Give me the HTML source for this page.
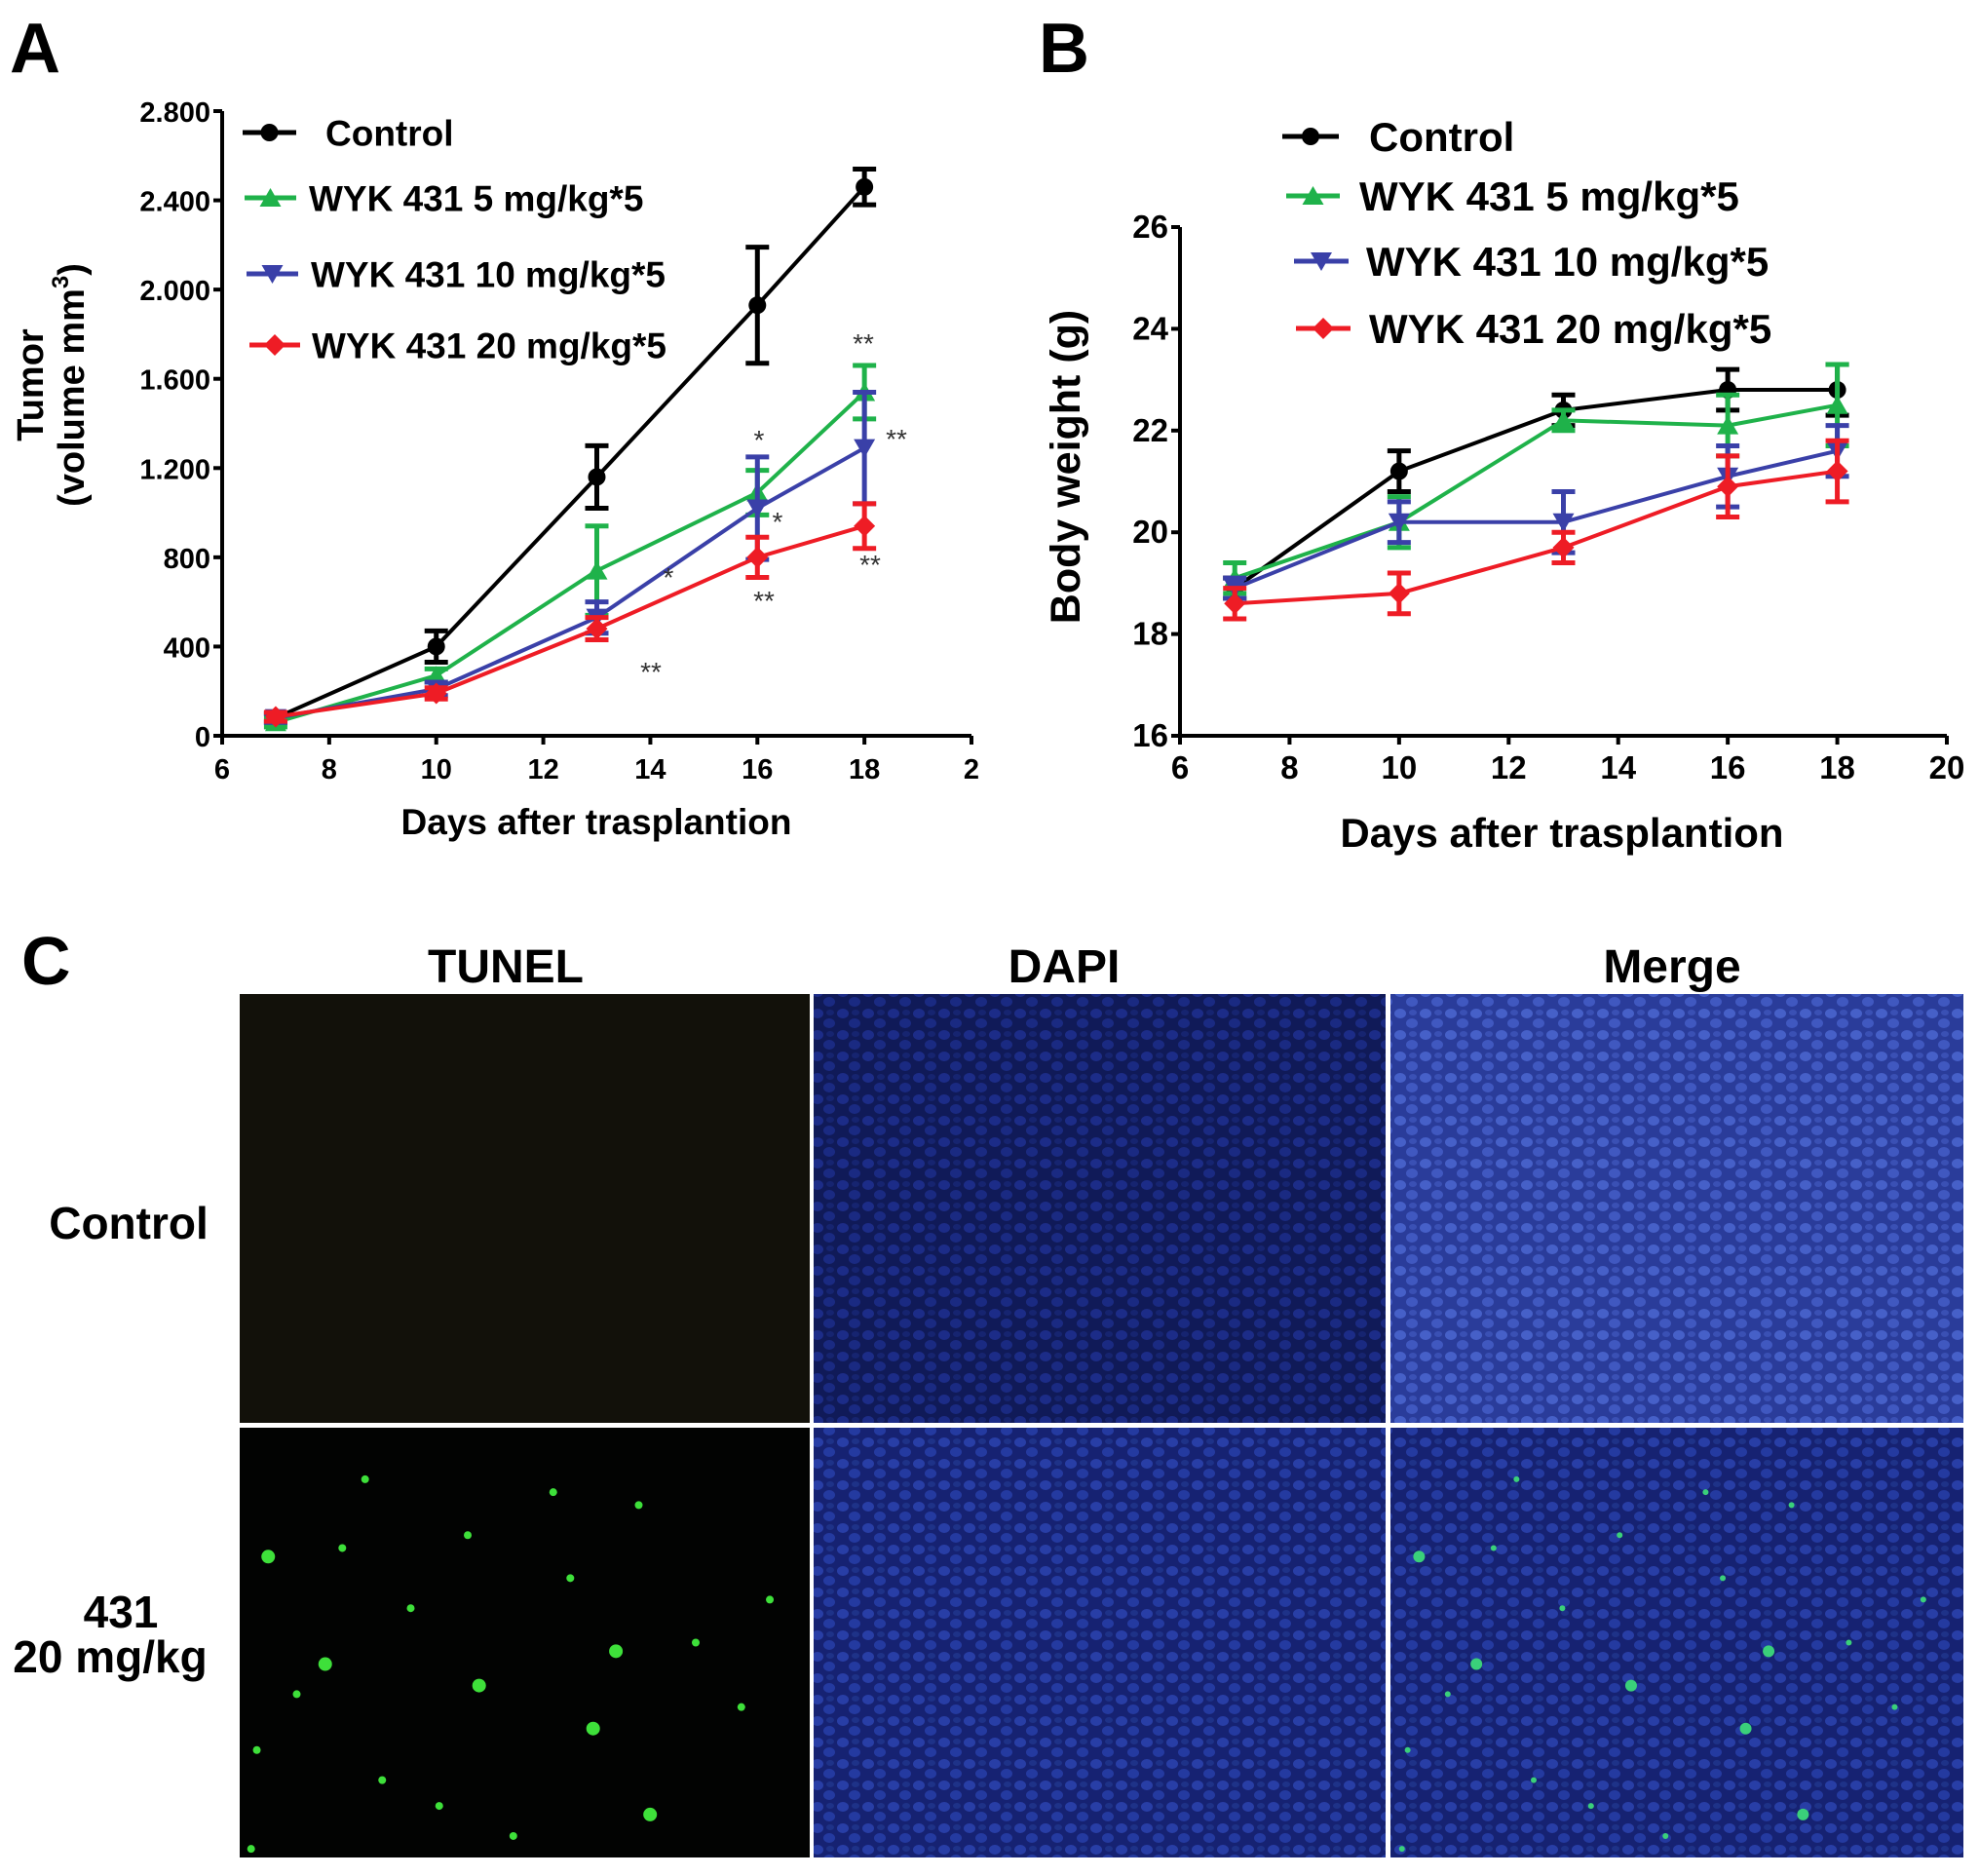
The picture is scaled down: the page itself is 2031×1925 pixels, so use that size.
<!DOCTYPE html>
<html><head><meta charset="utf-8"><style>
html,body{margin:0;padding:0;background:#fff;}
svg{display:block;font-family:"Liberation Sans",Arial,sans-serif;font-weight:bold;}
</style></head><body>
<svg id="fig" width="2031" height="1925" viewBox="0 0 2031 1925">
<defs>
<pattern id="nucDim" width="26" height="22" patternUnits="userSpaceOnUse">
<rect width="26" height="22" fill="#101a58"/>
<ellipse cx="7" cy="6" rx="6" ry="5" fill="#1c2c88"/>
<ellipse cx="19" cy="16" rx="6" ry="5" fill="#1a2a82"/>
<ellipse cx="20" cy="5" rx="4" ry="3" fill="#162470"/>
</pattern>
<pattern id="nucBright" width="26" height="22" patternUnits="userSpaceOnUse">
<rect width="26" height="22" fill="#2a3c9a"/>
<ellipse cx="7" cy="6" rx="6" ry="5" fill="#4660c8"/>
<ellipse cx="19" cy="16" rx="6" ry="5" fill="#4058c0"/>
<ellipse cx="20" cy="5" rx="4" ry="3" fill="#3a50b4"/>
</pattern>
<pattern id="nucMid" width="26" height="22" patternUnits="userSpaceOnUse">
<rect width="26" height="22" fill="#162272"/>
<ellipse cx="7" cy="6" rx="6" ry="5" fill="#283ea6"/>
<ellipse cx="19" cy="16" rx="6" ry="5" fill="#243aa0"/>
<ellipse cx="20" cy="5" rx="4" ry="3" fill="#1e3288"/>
</pattern>
</defs>

<g id="chartA"></g>
<g id="chartB"></g>

<text x="10" y="74" font-size="72">A</text>
<text x="1066" y="74" font-size="72">B</text>

<g>
<text x="22" y="1010" font-size="70">C</text>
<text x="519" y="1008" font-size="48" text-anchor="middle">TUNEL</text>
<text x="1092" y="1008" font-size="48" text-anchor="middle">DAPI</text>
<text x="1716" y="1008" font-size="48" text-anchor="middle">Merge</text>
<text x="132" y="1271" font-size="46" text-anchor="middle">Control</text>
<text x="124" y="1670" font-size="46" text-anchor="middle">431</text>
<text x="113" y="1716" font-size="46" text-anchor="middle">20 mg/kg</text>

<rect x="246" y="1020" width="585" height="440" fill="#12110a"/>
<rect x="835" y="1020" width="587" height="440" fill="url(#nucDim)"/>
<rect x="1427" y="1020" width="588" height="440" fill="url(#nucBright)"/>
<rect x="246" y="1465" width="585" height="441" fill="#020302"/>
<rect x="835" y="1465" width="587" height="441" fill="url(#nucMid)"/>
<rect x="1427" y="1465" width="588" height="441" fill="url(#nucMid)"/>
<g id="dots"></g>
</g>
</svg>
<script>
var NS="http://www.w3.org/2000/svg";
function mk(parent,tag,attrs,txt){var e=document.createElementNS(NS,tag);for(var k in attrs)e.setAttribute(k,attrs[k]);if(txt!==undefined)e.textContent=txt;parent.appendChild(e);return e;}

// ---- Chart A data ----
var daysA=[7,10,13,16,18];
var ctrlA=[80,400,1160,1930,2460];
var ctrlAErr=[20,70,140,260,80];
var g5A=[60,270,740,1090,1540];
var g5AErr=[20,30,200,100,120];
var b10A=[80,210,530,1020,1290];
var b10AErr=[20,30,70,230,250];
var r20A=[85,190,480,800,940];
var r20AErr=[20,25,50,90,100];
var yTicksA=["0","400","800","1.200","1.600","2.000","2.400","2.800"];
var yTickValsA=[0,400,800,1200,1600,2000,2400,2800];
var xTicksA=["6","8","10","12","14","16","18","2"];
var xTickValsA=[6,8,10,12,14,16,18,20];

// ---- Chart B data ----
var daysB=[7,10,13,16,18];
var ctrlB=[18.9,21.2,22.4,22.8,22.8];
var ctrlBErr=[0.2,0.4,0.3,0.4,0.5];
var g5B=[19.1,20.2,22.2,22.1,22.5];
var g5BErr=[0.3,0.5,0.2,0.6,0.8];
var b10B=[18.9,20.2,20.2,21.1,21.6];
var b10BErr=[0.2,0.4,0.6,0.6,0.5];
var r20B=[18.6,18.8,19.7,20.9,21.2];
var r20BErr=[0.3,0.4,0.3,0.6,0.6];
var yTickValsB=[16,18,20,22,24,26];
var xTickValsB=[6,8,10,12,14,16,18,20];

var colors={ctrl:"#000000",g:"#1fb24a",b:"#3a40a8",r:"#ee1c25"};

function marker(g,type,x,y,col,s){
  s=s||9;
  if(type==="circle")return mk(g,"circle",{cx:x,cy:y,r:s,fill:col});
  if(type==="up")return mk(g,"polygon",{points:(x)+","+(y-s-1)+" "+(x-s-2)+","+(y+s)+" "+(x+s+2)+","+(y+s),fill:col});
  if(type==="down")return mk(g,"polygon",{points:(x)+","+(y+s+1)+" "+(x-s-2)+","+(y-s)+" "+(x+s+2)+","+(y-s),fill:col});
  return mk(g,"polygon",{points:x+","+(y-s-2)+" "+(x+s+2)+","+y+" "+x+","+(y+s+2)+" "+(x-s-2)+","+y,fill:col});
}

function drawChart(g,o){
  function X(v){return o.x0+(v-o.xmin)/(o.xmax-o.xmin)*(o.x1-o.x0);}
  function Y(v){return o.y0-(v-o.ymin)/(o.ymax-o.ymin)*(o.y0-o.y1);}
  var ax=mk(g,"g",{});
  
  
  mk(ax,"line",{x1:o.x0,y1:o.y1,x2:o.x0,y2:o.y0,stroke:"#000","stroke-width":4});
  mk(ax,"line",{x1:o.x0,y1:o.y0,x2:o.x1,y2:o.y0,stroke:"#000","stroke-width":4});
  o.yv.forEach(function(v,i){
    mk(ax,"line",{x1:o.x0-9,y1:Y(v),x2:o.x0,y2:Y(v),stroke:"#000","stroke-width":4});
    var t=mk(ax,"text",{x:o.x0-12,y:Y(v)+11,"font-size":o.tf,"text-anchor":"end"},o.yl[i]);
    
    
  });
  o.xv.forEach(function(v,i){
    mk(ax,"line",{x1:X(v),y1:o.y0,x2:X(v),y2:o.y0+9,stroke:"#000","stroke-width":4});
    var t=mk(ax,"text",{x:X(v),y:o.y0+44,"font-size":o.tf,"text-anchor":"middle"},o.xl[i]);
    
    
  });
  o.series.forEach(function(s){
    var sg=mk(g,"g",{});
    
    
    var pts=s.x.map(function(d,i){return X(d)+","+Y(s.y[i]);}).join(" ");
    mk(sg,"polyline",{points:pts,fill:"none",stroke:s.col,"stroke-width":4});
    s.x.forEach(function(d,i){
      var cx=X(d),hi=Y(s.y[i]+s.e[i]),lo=Y(s.y[i]-s.e[i]);
      mk(sg,"line",{x1:cx,y1:hi,x2:cx,y2:lo,stroke:s.col,"stroke-width":5});
      mk(sg,"line",{x1:cx-12,y1:hi,x2:cx+12,y2:hi,stroke:s.col,"stroke-width":5});
      mk(sg,"line",{x1:cx-12,y1:lo,x2:cx+12,y2:lo,stroke:s.col,"stroke-width":5});
      var m=marker(sg,s.m,cx,Y(s.y[i]),s.col);
      
      
    });
  });
  o.legend.forEach(function(L){
    var lg=mk(g,"g",{});
    
    
    mk(lg,"line",{x1:L.lx0,y1:L.y,x2:L.lx1,y2:L.y,stroke:L.col,"stroke-width":5});
    marker(lg,L.m,(L.lx0+L.lx1)/2,L.y,L.col,9);
    mk(lg,"text",{x:L.tx,y:L.y+o.lf*0.36,"font-size":o.lf},L.label);
  });
}

var gA=document.getElementById("chartA");
drawChart(gA,{x0:228,x1:997,y0:755,y1:114,xmin:6,xmax:20,ymin:0,ymax:2800,tf:29,lf:37,
  yv:yTickValsA,yl:yTicksA,xv:xTickValsA,xl:xTicksA,
  series:[
   {name:"control",x:daysA,y:ctrlA,e:ctrlAErr,col:colors.ctrl,m:"circle"},
   {name:"5mg",x:daysA,y:g5A,e:g5AErr,col:colors.g,m:"up"},
   {name:"10mg",x:daysA,y:b10A,e:b10AErr,col:colors.b,m:"down"},
   {name:"20mg",x:daysA,y:r20A,e:r20AErr,col:colors.r,m:"diamond"}],
  legend:[
   {y:136,lx0:249,lx1:304,tx:334,col:colors.ctrl,m:"circle",label:"Control"},
   {y:203,lx0:251,lx1:304,tx:317,col:colors.g,m:"up",label:"WYK 431 5 mg/kg*5"},
   {y:281,lx0:253,lx1:306,tx:319,col:colors.b,m:"down",label:"WYK 431 10 mg/kg*5"},
   {y:354,lx0:256,lx1:308,tx:320,col:colors.r,m:"diamond",label:"WYK 431 20 mg/kg*5"}]
});
var yA=mk(gA,"text",{transform:"translate(44,395) rotate(-90)","font-size":38,"text-anchor":"middle"},"Tumor");


var yA2=mk(gA,"text",{transform:"translate(86,395) rotate(-90)","font-size":38,"text-anchor":"middle"});


mk(yA2,"tspan",{},"(volume mm");
mk(yA2,"tspan",{"font-size":24,dy:-16},"3");
mk(yA2,"tspan",{dy:16},")");
var xA=mk(gA,"text",{x:612,y:856,"font-size":37,"text-anchor":"middle"},"Days after trasplantion");


var starTexts=["**","**","**","**","**","*","*","*"];
var starPos=[[886,362],[920,460],[893,589],[784,626],[668,699],[779,461],[798,545],[686,602]];
starTexts.forEach(function(s,i){
  var t=mk(gA,"text",{x:starPos[i][0],y:starPos[i][1],"font-size":28,fill:"#333","text-anchor":"middle","font-weight":"normal"},s);
  
  
});

var gB=document.getElementById("chartB");
drawChart(gB,{x0:1211,x1:1998,y0:755,y1:233,xmin:6,xmax:20,ymin:16,ymax:26,tf:33,lf:42,
  yv:yTickValsB,yl:yTickValsB.map(String),xv:xTickValsB,xl:xTickValsB.map(String),
  series:[
   {name:"control",x:daysB,y:ctrlB,e:ctrlBErr,col:colors.ctrl,m:"circle"},
   {name:"5mg",x:daysB,y:g5B,e:g5BErr,col:colors.g,m:"up"},
   {name:"10mg",x:daysB,y:b10B,e:b10BErr,col:colors.b,m:"down"},
   {name:"20mg",x:daysB,y:r20B,e:r20BErr,col:colors.r,m:"diamond"}],
  legend:[
   {y:140,lx0:1316,lx1:1374,tx:1405,col:colors.ctrl,m:"circle",label:"Control"},
   {y:201,lx0:1320,lx1:1375,tx:1395,col:colors.g,m:"up",label:"WYK 431 5 mg/kg*5"},
   {y:268,lx0:1328,lx1:1384,tx:1402,col:colors.b,m:"down",label:"WYK 431 10 mg/kg*5"},
   {y:337,lx0:1330,lx1:1386,tx:1405,col:colors.r,m:"diamond",label:"WYK 431 20 mg/kg*5"}]
});
var yB=mk(gB,"text",{transform:"translate(1108,479) rotate(-90)","font-size":43,"text-anchor":"middle"},"Body  weight (g)");


var xB=mk(gB,"text",{x:1603,y:869,"font-size":42,"text-anchor":"middle"},"Days after trasplantion");



// TUNEL positive cells (relative positions within 431 images)
var cellFx=[0.05,0.18,0.30,0.10,0.42,0.55,0.70,0.25,0.62,0.80,0.35,0.48,0.15,0.88,0.03,0.58,0.72,0.22,0.40,0.02,0.66,0.93];
var cellFy=[0.30,0.28,0.42,0.62,0.60,0.15,0.18,0.82,0.70,0.50,0.88,0.95,0.55,0.65,0.75,0.35,0.90,0.12,0.25,0.98,0.52,0.40];
var dg=document.getElementById("dots");
cellFx.forEach(function(fx,i){
  var c=mk(dg,"circle",{cx:246+fx*585,cy:1465+cellFy[i]*441,r:(i%4===0?7:4),fill:"#3ee03a"});
  
  
  var c2=mk(dg,"circle",{cx:1427+fx*588,cy:1465+cellFy[i]*441,r:(i%4===0?6:3),fill:"#3ad07a"});
  
  
});
</script>
</body></html>
